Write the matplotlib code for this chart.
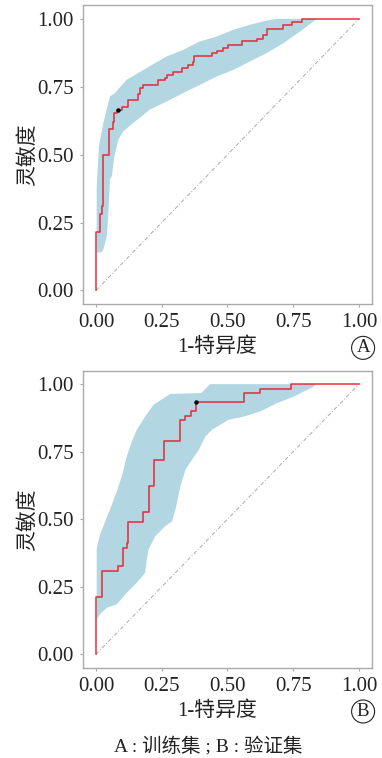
import matplotlib
matplotlib.use("Agg")
import matplotlib.pyplot as plt
import numpy as np

# ===================
# DATA
# ===================
# training set (A): step ROC, x = 1-specificity where the jump happens, y = level after it
train_fpr = [0.0, 0.0, 0.015, 0.022, 0.028, 0.051, 0.063, 0.070, 0.081, 0.098, 0.120, 0.158,
             0.167, 0.180, 0.237, 0.262, 0.269, 0.294, 0.326, 0.351, 0.368, 0.374, 0.440,
             0.459, 0.482, 0.503, 0.556, 0.611, 0.636, 0.649, 0.712, 0.746, 0.782, 1.0]
train_tpr = [0.0, 0.215, 0.28, 0.31, 0.498, 0.594, 0.619, 0.653, 0.663, 0.675, 0.700, 0.723,
             0.745, 0.757, 0.776, 0.782, 0.794, 0.806, 0.819, 0.831, 0.843, 0.862, 0.874,
             0.882, 0.892, 0.902, 0.920, 0.925, 0.941, 0.962, 0.978, 0.990, 1.0, 1.0]
train_best = (0.085, 0.663)
train_hi_x = [0.0025, 0.0025, 0.011, 0.028, 0.053, 0.070, 0.116, 0.142, 0.180, 0.269, 0.332,
              0.395, 0.459, 0.522, 0.585, 0.649, 0.687]
train_hi_y = [0.14, 0.38, 0.53, 0.617, 0.715, 0.725, 0.776, 0.79, 0.812, 0.862, 0.886,
              0.917, 0.935, 0.96, 0.978, 0.994, 1.0]
train_lo_x = [0.0025, 0.02, 0.028, 0.041, 0.047, 0.053, 0.060, 0.070, 0.085, 0.104, 0.142,
              0.205, 0.269, 0.332, 0.395, 0.459, 0.522, 0.585, 0.649, 0.712, 0.776, 0.839]
train_lo_y = [0.14, 0.14, 0.15, 0.20, 0.286, 0.41, 0.42, 0.495, 0.556, 0.586, 0.617,
              0.666, 0.696, 0.727, 0.757, 0.788, 0.812, 0.843, 0.874, 0.91, 0.953, 1.0]

# validation set (B)
valid_fpr = [0.0, 0.0, 0.022, 0.085, 0.101, 0.118, 0.121, 0.178, 0.200, 0.221, 0.260, 0.321,
             0.340, 0.360, 0.382, 0.562, 0.622, 0.742, 1.0]
valid_tpr = [0.0, 0.212, 0.31, 0.326, 0.394, 0.413, 0.49, 0.527, 0.622, 0.72, 0.788, 0.868,
             0.884, 0.901, 0.933, 0.967, 0.983, 1.0, 1.0]
valid_best = (0.382, 0.933)
valid_hi_x = [0.0025, 0.0025, 0.015, 0.028, 0.04, 0.06, 0.079, 0.098, 0.117, 0.136, 0.155,
              0.187, 0.219, 0.257, 0.283, 0.40, 0.434]
valid_hi_y = [0.129, 0.39, 0.443, 0.474, 0.505, 0.554, 0.603, 0.659, 0.733, 0.788, 0.831,
              0.88, 0.924, 0.948, 0.964, 0.967, 1.0]
valid_lo_x = [0.0025, 0.015, 0.041, 0.079, 0.117, 0.155, 0.187, 0.193, 0.2, 0.225, 0.263,
              0.289, 0.302, 0.321, 0.34, 0.365, 0.391, 0.416, 0.441, 0.503, 0.562, 0.625,
              0.689, 0.752, 0.828, 0.834]
valid_lo_y = [0.129, 0.148, 0.172, 0.185, 0.228, 0.265, 0.302, 0.351, 0.388, 0.437, 0.474,
              0.492, 0.535, 0.622, 0.683, 0.72, 0.757, 0.806, 0.831, 0.868, 0.88, 0.899,
              0.93, 0.954, 0.991, 1.0]

tick_values = [0.0, 0.25, 0.5, 0.75, 1.0]
tick_labels = ["0.00", "0.25", "0.50", "0.75", "1.00"]
panel_tags = ["A", "B"]
x_label = "1-特异度"
y_label = "灵敏度"
caption = "A : 训练集 ; B : 验证集"

# ===================
# STYLE
# ===================
SERIF = ["Liberation Serif", "Noto Sans CJK SC"]
CJK = ["Noto Sans CJK SC", "Liberation Serif"]
BAND = "#b2d7e2"
LINE = "#e8101c"
FRAME = "#aaaaaa"
TEXT = "#222222"


def draw_panel(ax, fpr, tpr, best, hi_x, hi_y, lo_x, lo_y, tag):
    poly_x = np.concatenate([hi_x, lo_x[::-1]])
    poly_y = np.concatenate([hi_y, lo_y[::-1]])
    ax.fill(poly_x, poly_y, color=BAND, lw=0, zorder=1)
    ax.plot([0, 1], [0, 1], color="#aaaaaa", lw=0.7, linestyle=(0, (4, 2, 1, 2)), zorder=2)
    ax.plot(fpr, tpr, drawstyle="steps-post", color=LINE, alpha=0.8, lw=1.2, zorder=3)
    ax.plot([best[0]], [best[1]], "o", color="black", ms=2.2, zorder=4)

    ax.set_xlim(-0.05, 1.05)
    ax.set_ylim(-0.05, 1.05)
    ax.set_xticks(tick_values)
    ax.set_yticks(tick_values)
    ax.set_xticklabels(tick_labels, family=SERIF, fontsize=15)
    ax.set_yticklabels(tick_labels, family=SERIF, fontsize=15)
    ax.tick_params(colors=FRAME, labelcolor=TEXT, length=2.5, width=0.8, pad=4)
    for sp in ax.spines.values():
        sp.set_color(FRAME)
        sp.set_linewidth(1.0)

    ax.set_xlabel(x_label, family=SERIF, fontsize=15, color=TEXT)
    ax.xaxis.set_label_coords(0.463, -0.112)
    ax.set_ylabel(y_label, family=CJK, fontsize=15, color=TEXT)
    ax.yaxis.set_label_coords(-0.156, 0.5)

    ax.text(0.969, -0.147, tag, transform=ax.transAxes, family=SERIF, fontsize=13.5,
            ha="center", va="center", color=TEXT,
            bbox=dict(boxstyle="circle,pad=0.16", fc="none", ec=TEXT, lw=0.8))


fig = plt.figure(figsize=(3.82, 7.58), dpi=100)
ax_a = fig.add_axes([0.217, 0.599, 0.757, 0.394])
ax_b = fig.add_axes([0.217, 0.119, 0.757, 0.392])

draw_panel(ax_a, train_fpr, train_tpr, train_best, np.array(train_hi_x), np.array(train_hi_y),
           np.array(train_lo_x), np.array(train_lo_y), panel_tags[0])
draw_panel(ax_b, valid_fpr, valid_tpr, valid_best, np.array(valid_hi_x), np.array(valid_hi_y),
           np.array(valid_lo_x), np.array(valid_lo_y), panel_tags[1])

fig.text(208.5 / 382, 1 - 746 / 758, caption, family=SERIF, fontsize=14, ha="center",
         va="center", color=TEXT)

fig.savefig("out.png", dpi=100)
